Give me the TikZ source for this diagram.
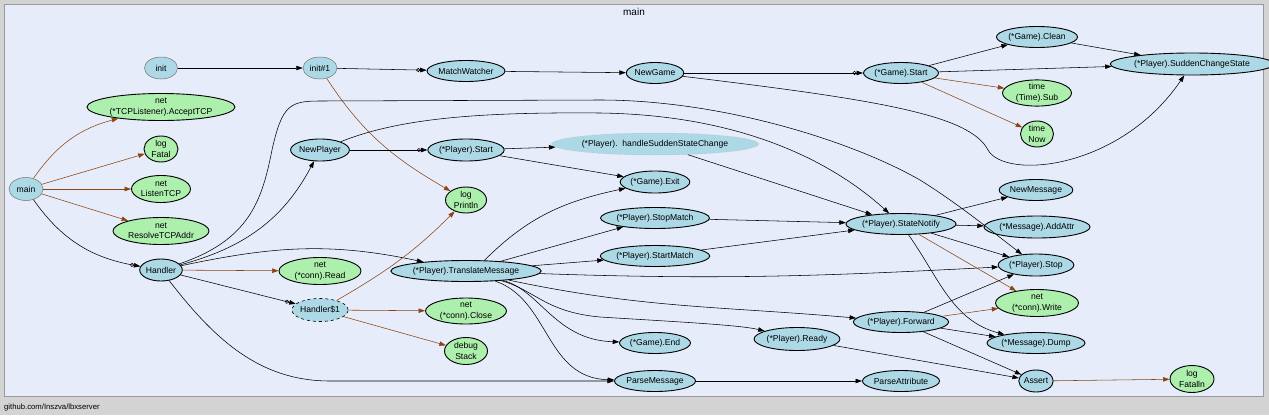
\documentclass[tikz,border=0pt]{standalone}
\usepackage{fontspec}
\setmainfont{Liberation Sans}
\usetikzlibrary{shapes.geometric,arrows.meta}
\definecolor{bgcol}{HTML}{D3D3D3}
\definecolor{clfill}{HTML}{E6ECFA}
\definecolor{clline}{HTML}{9A9A9A}
\definecolor{fnblue}{HTML}{ADD8E6}
\definecolor{extgreen}{HTML}{ADEFAD}
\definecolor{extbrown}{HTML}{8B4513}
\begin{document}
\begin{tikzpicture}[x=1pt,y=1pt,
  fn/.style={ellipse,draw=black,line width=0.9pt,fill=fnblue,inner sep=0pt,align=center,
    font=\fontsize{8.6}{10.5}\selectfont},
  ext/.style={fn,fill=extgreen},
  thinb/.style={draw=black!55,line width=0.5pt},
  sz/.style 2 args={minimum width=#1pt,minimum height=#2pt},
  cl/.style={-{Triangle[length=6.5pt,width=4.5pt]},line width=0.55pt,draw=black},
  xl/.style={cl,draw=extbrown,-{Triangle[length=6.5pt,width=4.5pt,fill=extbrown]}},
  gocall/.style={cl,-{Circle[open,length=4pt,width=4pt] Triangle[length=6.5pt,width=4.5pt]}},
  defercall/.style={cl,-{Diamond[open,length=5pt,width=4pt] Triangle[length=6.5pt,width=4.5pt]}}
]
\useasboundingbox (0,0) rectangle (1269,-415);
\fill[bgcol] (0,0) rectangle (1269,-415);
\draw[clline,fill=clfill,line width=0.8pt] (4.5,-4.5) rectangle (1263,-396);
\node[font=\fontsize{10}{12}\selectfont] (title) at (634,-12) {main};
\node[anchor=west,inner sep=0pt,font=\fontsize{7.7}{9}\selectfont] (foot) at (4,-408) {github.com/Inszva/lbxserver};

% nodes
\node[fn,thinb,sz={33}{22}] (init) at (161,-68) {init};
\node[fn,thinb,sz={34}{22}] (initone) at (320,-68) {init\#1};
\node[fn,sz={67}{21}] (mw) at (466,-71) {MatchWatcher};
\node[fn,sz={50}{21}] (newgame) at (655,-73) {NewGame};
\node[fn,sz={66}{21}] (gstart) at (901,-73) {(*Game).Start};
\node[fn,sz={70}{21}] (gclean) at (1037,-37) {(*Game).Clean};
\node[fn,sz={133}{22}] (scs) at (1192,-64) {(*Player).SuddenChangeState};
\node[ext,sz={69}{26}] (tsub) at (1037,-93) {time\\(Time).Sub};
\node[ext,sz={33}{26}] (tnow) at (1037,-134) {time\\Now};
\node[fn,sz={61}{21}] (newmsg) at (1036,-190) {NewMessage};
\node[fn,sz={90}{22}] (addattr) at (1037,-227) {(*Message).AddAttr};
\node[fn,sz={66}{22}] (pstop) at (1036,-265) {(*Player).Stop};
\node[ext,sz={83}{27}] (write) at (1037,-303) {net\\(*conn).Write};
\node[fn,sz={84}{21}] (dump) at (1036,-343) {(*Message).Dump};
\node[fn,sz={33}{22}] (assert) at (1036,-381) {Assert};
\node[ext,sz={44}{27}] (fatalln) at (1192,-379) {log\\Fatalln};
\node[fn,thinb,sz={34}{23}] (main) at (26,-189) {main};
\node[ext,sz={148}{27}] (accept) at (161,-107) {net\\(*TCPListener).AcceptTCP};
\node[ext,sz={34}{26}] (fatal) at (161,-149) {log\\Fatal};
\node[ext,sz={59}{27}] (listen) at (161,-189) {net\\ListenTCP};
\node[ext,sz={96}{27}] (resolve) at (161,-231) {net\\ResolveTCPAddr};
\node[fn,sz={38}{22}] (handler) at (161,-270) {Handler};
\node[fn,sz={51}{22}] (newplayer) at (320,-150) {NewPlayer};
\node[fn,sz={67}{22}] (pstart) at (466,-150) {(*Player).Start};
\node[fn,draw=black!35,line width=0.5pt,dotted,sz={166}{22}] (hssc) at (655,-144) {(*Player).\ \ handleSuddenStateChange};
\node[fn,sz={61}{22}] (gexit) at (655,-182) {(*Game).Exit};
\node[ext,sz={41}{26}] (println) at (466,-200) {log\\Println};
\node[fn,sz={92}{21}] (stopm) at (655,-218) {(*Player).StopMatch};
\node[fn,sz={94}{21}] (startm) at (655,-256) {(*Player).StartMatch};
\node[fn,sz={93}{21}] (sn) at (901,-224) {(*Player).StateNotify};
\node[ext,sz={82}{27}] (read) at (320,-271) {net\\(*conn).Read};
\node[fn,sz={122}{21}] (tm) at (466,-271) {(*Player).TranslateMessage};
\node[fn,line width=0.6pt,dashed,sz={50}{23}] (hone) at (320,-310) {Handler\$1};
\node[ext,sz={81}{26}] (close) at (466,-311) {net\\(*conn).Close};
\node[ext,sz={43}{27}] (stack) at (466,-351) {debug\\Stack};
\node[fn,sz={63}{21}] (gend) at (655,-343) {(*Game).End};
\node[fn,sz={64}{21}] (pmsg) at (655,-381) {ParseMessage};
\node[fn,sz={72}{23}] (ready) at (797,-339) {(*Player).Ready};
\node[fn,sz={80}{21}] (fwd) at (901,-322) {(*Player).Forward};
\node[fn,sz={64}{21}] (pattr) at (901,-381) {ParseAttribute};

% edges
\draw[cl] (init) -- (initone);
\draw[gocall] (initone) -- (mw);
\draw[xl] (initone) to[out=-57,in=150] (println);
\draw[cl] (mw) -- (newgame);
\draw[gocall] (newgame) -- (gstart);
\draw[cl] (newgame) .. controls (880,-100) and (970,-115) .. (988,-150)
   .. controls (1005,-180) and (1120,-170) .. (scs);
\draw[cl] (newplayer) .. controls (400,-118) and (480,-112) .. (600,-113)
   .. controls (740,-115) and (830,-160) .. (sn);
\draw[cl] (handler) .. controls (250,-240) and (262,-200) .. (272,-150)
   .. controls (282,-105) and (290,-101) .. (320,-101) -- (600,-100)
   .. controls (720,-100) and (850,-140) .. (920,-180)
   .. controls (960,-205) and (990,-230) .. (pstop);
\draw[xl] (main) to[out=55,in=195] (accept);
\draw[xl] (main) -- (fatal);
\draw[xl] (main) -- (listen);
\draw[xl] (main) -- (resolve);
\draw[gocall] (main) to[out=-55,in=170] (handler);
\draw[cl] (handler) to[out=15,in=-118] (newplayer);
\draw[cl] (handler) to[out=12,in=168] (tm);
\draw[xl] (handler) -- (read);
\draw[defercall] (handler) -- (hone);
\draw[cl] (handler) .. controls (215,-340) and (260,-381) .. (330,-381) -- (pmsg);
\draw[gocall] (newplayer) -- (pstart);
\draw[cl] (pstart) -- (hssc);
\draw[cl] (pstart) -- (gexit);
\draw[cl] (tm.30) to[out=45,in=192] (gexit);
\draw[cl] (tm) -- (stopm);
\draw[cl] (tm) -- (startm);
\draw[cl] (tm) to[out=-2,in=183] (pstop);
\draw[cl] (tm) to[out=-12,in=175] (fwd);
\draw[cl] (tm) .. controls (535,-290) and (545,-312) .. (600,-317)
   .. controls (680,-322) and (740,-325) .. (ready);
\draw[cl] (tm) .. controls (540,-290) and (555,-340) .. (gend);
\draw[cl] (tm) .. controls (550,-300) and (545,-378) .. (pmsg);
\draw[cl] (gstart) -- (gclean);
\draw[cl] (gstart) -- (scs);
\draw[xl] (gstart) -- (tsub);
\draw[xl] (gstart) -- (tnow);
\draw[cl] (gclean) -- (scs);
\draw[cl] (stopm) -- (sn);
\draw[cl] (startm) -- (sn);
\draw[cl] (hssc) -- (sn);
\draw[cl] (sn) -- (newmsg);
\draw[cl] (sn) -- (addattr);
\draw[cl] (sn) -- (pstop);
\draw[xl] (sn) -- (write);
\draw[cl] (sn) to[out=-55,in=165] (dump);
\draw[cl] (fwd) -- (pstop);
\draw[xl] (fwd) -- (write);
\draw[cl] (fwd) -- (dump);
\draw[cl] (fwd) -- (assert);
\draw[cl] (ready) -- (assert);
\draw[cl] (pmsg) -- (pattr);
\draw[xl] (assert) -- (fatalln);
\draw[xl] (hone) to[out=30,in=-135] (println);
\draw[xl] (hone) -- (close);
\draw[xl] (hone) -- (stack);
\end{tikzpicture}
\end{document}
